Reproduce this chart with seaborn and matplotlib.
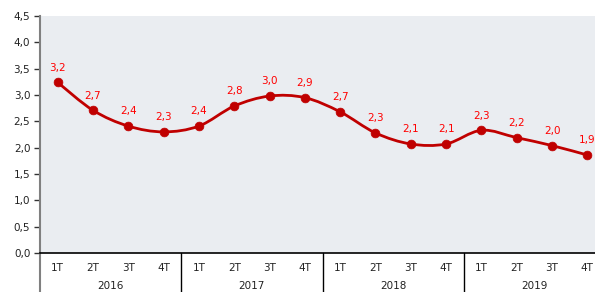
import numpy as np
import matplotlib
matplotlib.use('Agg')
import matplotlib.pyplot as plt
from matplotlib.path import Path
from matplotlib.patches import PathPatch
import matplotlib.transforms as mtransforms
import seaborn as sns

quarters = ['1T', '2T', '3T', '4T'] * 4
years = ['2016', '2017', '2018', '2019']
values = [3.24, 2.71, 2.41, 2.30, 2.41, 2.79, 2.98, 2.95,
          2.68, 2.28, 2.07, 2.07, 2.33, 2.19, 2.04, 1.86]
labels = ['3,2', '2,7', '2,4', '2,3', '2,4', '2,8', '3,0', '2,9',
          '2,7', '2,3', '2,1', '2,1', '2,3', '2,2', '2,0', '1,9']
yticks = [0, 0.5, 1, 1.5, 2, 2.5, 3, 3.5, 4, 4.5]

sns.set_style('white', {'axes.facecolor': '#eaedf1'})
plt.rcParams['font.family'] = ['DejaVu Sans']

fig = plt.figure(figsize=(5.95, 2.92), dpi=100)
W, H = 595, 292
ax = fig.add_axes([40 / W, (H - 253) / H, (605 - 40) / W, (253 - 16) / H])

x = np.arange(len(values))
y = np.array(values)

# smoothed line (Catmull-Rom style bezier, like Excel's smoothed line)
px = np.concatenate([[x[0]], x, [x[-1]]])
py = np.concatenate([[y[0]], y, [y[-1]]])
verts = [(x[0], y[0])]
codes = [Path.MOVETO]
for j in range(1, len(x)):
    c1 = (px[j] + (px[j + 1] - px[j - 1]) / 6, py[j] + (py[j + 1] - py[j - 1]) / 6)
    c2 = (px[j + 1] - (px[j + 2] - px[j]) / 6, py[j + 1] - (py[j + 2] - py[j]) / 6)
    verts += [c1, c2, (px[j + 1], py[j + 1])]
    codes += [Path.CURVE4] * 3
ax.add_patch(PathPatch(Path(verts, codes), facecolor='none', edgecolor='#c00000', lw=2, zorder=3))

sns.scatterplot(x=x, y=y, ax=ax, color='#c00000', s=40, edgecolor='#c00000', zorder=4, legend=False)

for xi, yi, lab in zip(x, y, labels):
    ax.annotate(lab, (xi, yi), xytext=(0, 7), textcoords='offset points',
                ha='center', va='bottom', color='#ff0000', fontsize=7.5)

ax.set_xlim(-0.5, len(values) - 0.5)
ax.set_ylim(0, 4.5)
ax.set_yticks(yticks)
ax.set_yticklabels([f'{v:.1f}'.replace('.', ',') for v in yticks], fontsize=7.5, color='#222222')
ax.set_xticks(x)
ax.set_xticklabels(quarters, fontsize=7.5, color='#222222')
ax.tick_params(axis='x', length=0, pad=7)
ax.tick_params(axis='y', length=4, width=1, color='#333333', direction='out', pad=3, left=True)

for s in ['top', 'right']:
    ax.spines[s].set_visible(False)
ax.spines['left'].set_color('#808080')
ax.spines['left'].set_linewidth(1.5)
ax.spines['bottom'].set_color('#000000')
ax.spines['bottom'].set_linewidth(1.2)

trans = mtransforms.blended_transform_factory(ax.transData, ax.transAxes)
ax.plot([-0.5, -0.5], [0, -0.25], transform=trans, color='#808080', lw=1.5, clip_on=False)
for k in range(1, 5):
    ax.plot([4 * k - 0.5] * 2, [0, -0.25], transform=trans, color='#000000', lw=1, clip_on=False)
for k, yr in enumerate(years):
    ax.text(4 * k + 1.5, -0.118, yr, transform=trans, ha='center', va='top',
            fontsize=7.5, color='#222222')

fig.savefig('out.png', dpi=100)
